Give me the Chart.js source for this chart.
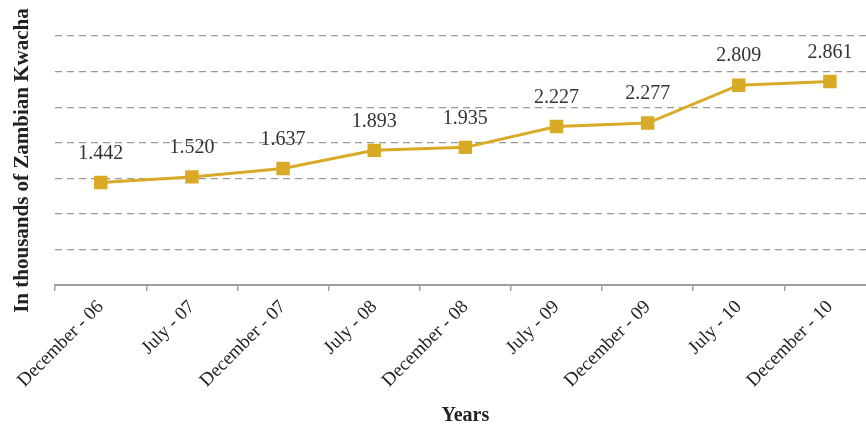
<!DOCTYPE html>
<html>
<head>
<meta charset="utf-8">
<script src="https://cdn.jsdelivr.net/npm/chart.js@4"></script>
<style>
  html, body { margin: 0; padding: 0; background: #fff; overflow: hidden; }
  #wrap { width: 885px; height: 428px; position: relative; }
</style>
</head>
<body>
<div id="wrap"><canvas id="c"></canvas></div>
<script>
const categories = ["December - 06", "July - 07", "December - 07", "July - 08", "December - 08", "July - 09", "December - 09", "July - 10", "December - 10"];
const values = [1.442, 1.520, 1.637, 1.893, 1.935, 2.227, 2.277, 2.809, 2.861];
const valueLabels = ["1.442", "1.520", "1.637", "1.893", "1.935", "2.227", "2.277", "2.809", "2.861"];

const SERIF = "'Liberation Serif', 'Times New Roman', serif";
const GOLD = "#D9AA26";

const labelPlugin = {
  id: 'valueLabels',
  afterDatasetsDraw(chart) {
    const ctx = chart.ctx;
    const meta = chart.getDatasetMeta(0);
    ctx.save();
    ctx.font = "20px " + SERIF;
    ctx.fillStyle = "#333333";
    ctx.textAlign = "center";
    ctx.textBaseline = "middle";
    meta.data.forEach((pt, i) => {
      ctx.fillText(valueLabels[i], pt.x, pt.y - 29);
    });
    ctx.restore();
  }
};

new Chart(document.getElementById('c'), {
  type: 'line',
  data: {
    labels: categories,
    datasets: [{
      data: values,
      borderColor: GOLD,
      backgroundColor: GOLD,
      borderWidth: 3,
      pointStyle: 'rect',
      pointRadius: 9.5,
      pointHoverRadius: 9.5,
      pointBorderWidth: 0,
      tension: 0,
      fill: false
    }]
  },
  options: {
    responsive: true,
    maintainAspectRatio: false,
    animation: false,
    events: [],
    layout: { padding: { left: 0, right: 1, top: 36, bottom: 0 } },
    plugins: { legend: { display: false }, tooltip: { enabled: false } },
    scales: {
      x: {
        type: 'category',
        offset: true,
        grid: { display: true, drawOnChartArea: false, drawTicks: true, tickLength: 6, offset: true, color: '#A0A0A0', lineWidth: 1.5 },
        border: { display: true, color: '#A0A0A0', width: 2 },
        ticks: { font: { family: SERIF, size: 19 }, color: '#222', minRotation: 45, maxRotation: 45, padding: 5 },
        title: { display: true, text: 'Years', font: { family: SERIF, size: 20, weight: 'bold' }, color: '#222', padding: { top: 7, bottom: 0 } }
      },
      y: {
        min: 0, max: 3.5,
        ticks: { display: false, stepSize: 0.5 },
        grid: { drawTicks: false, color: '#999999', lineWidth: 1.2 },
        border: { display: false, dash: [7, 5] },
        title: { display: true, text: 'In thousands of Zambian Kwacha', font: { family: SERIF, size: 21, weight: 'bold' }, color: '#222', padding: { top: 10, bottom: 20 } }
      }
    }
  },
  plugins: [labelPlugin]
});
</script>
</body>
</html>
